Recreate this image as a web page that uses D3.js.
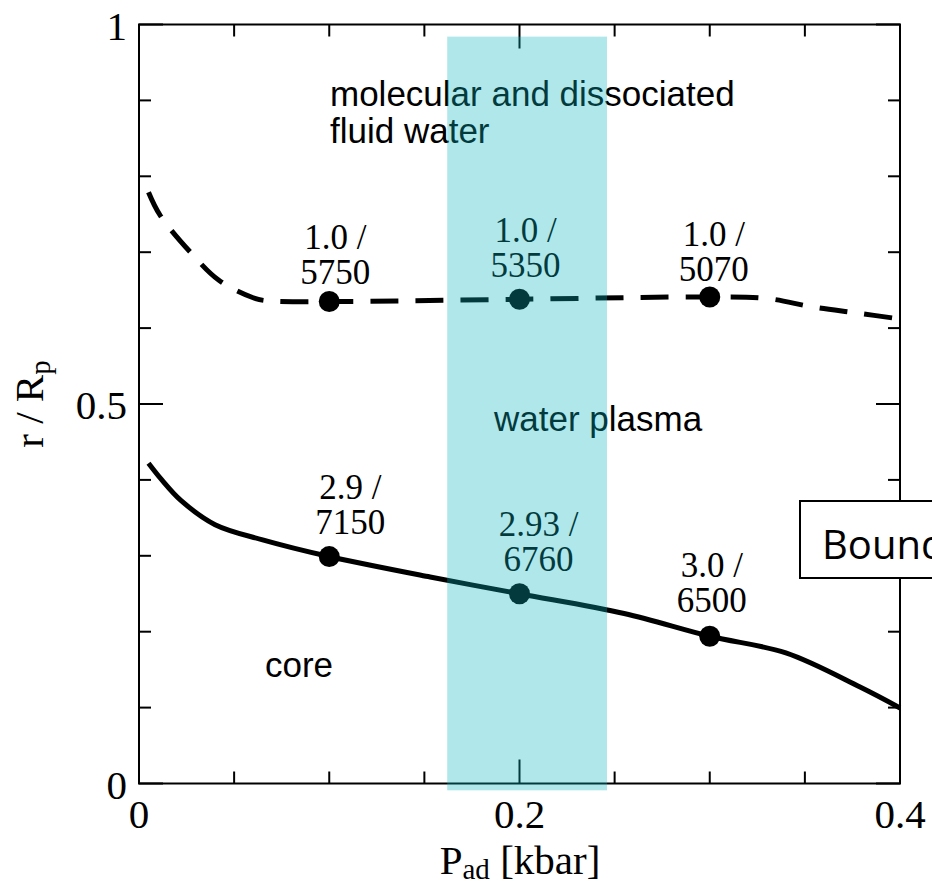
<!DOCTYPE html>
<html>
<head>
<meta charset="utf-8">
<script src="https://cdn.jsdelivr.net/npm/d3@7"></script>
<style>
    html, body { margin: 0; padding: 0; background: #fff; }
    svg { display: block; }
    .serif { font-family: 'Liberation Serif', 'Times New Roman', serif; }
    .sans { font-family: 'Liberation Sans', Arial, sans-serif; }
</style>
</head>
<body>
<div id="chart"></div>
<script>
// data
const fluidX = [0.005, 0.011, 0.027, 0.042, 0.060, 0.067, 0.1, 0.2, 0.3, 0.33, 0.354, 0.377, 0.4];
const fluidY = [0.779, 0.749, 0.700, 0.663, 0.640, 0.636, 0.635, 0.638, 0.641, 0.639, 0.628, 0.620, 0.612];
const coreX = [0.005, 0.012, 0.022, 0.040, 0.065, 0.1, 0.153, 0.2, 0.255, 0.3, 0.34, 0.379, 0.4];
const coreY = [0.422, 0.400, 0.373, 0.341, 0.321, 0.299, 0.272, 0.250, 0.224, 0.194, 0.172, 0.127, 0.0995];

const markX = [0.1, 0.2, 0.3];
const fluidMarkY = [0.635, 0.638, 0.641];
const coreMarkY = [0.299, 0.250, 0.194];
const fluidLabels = [['1.0 /', '5750'], ['1.0 /', '5350'], ['1.0 /', '5070']];
const coreLabels = [['2.9 /', '7150'], ['2.93 /', '6760'], ['3.0 /', '6500']];

const bandX = [0.162, 0.246];
const bandY = [-0.009, 0.984];

const xTicks = [0, 0.2, 0.4];
const yTicks = [0, 0.5, 1];

const width = 932, height = 883;
const margin = { left: 139, right: 32, top: 24.5, bottom: 99.5 };

const x = d3.scaleLinear().domain([0, 0.4]).range([margin.left, width - margin.right]);
const y = d3.scaleLinear().domain([0, 1]).range([height - margin.bottom, margin.top]);

const svg = d3.select('#chart').append('svg')
    .attr('width', width)
    .attr('height', height);

const x0 = x(0), x1 = x(0.4), y0 = y(0), y1 = y(1);

// curves
const line = d3.line()
    .curve(d3.curveCatmullRom.alpha(0.5))
    .x(d => x(d[0]))
    .y(d => y(d[1]));

svg.append('path')
    .attr('fill', 'none')
    .attr('stroke', '#000')
    .attr('stroke-width', 5)
    .attr('stroke-dasharray', '28,17')
    .attr('d', line(d3.zip(fluidX, fluidY)));

svg.append('path')
    .attr('fill', 'none')
    .attr('stroke', '#000')
    .attr('stroke-width', 5)
    .attr('d', line(d3.zip(coreX, coreY)));

// markers
svg.selectAll('circle.fluid')
    .data(d3.zip(markX, fluidMarkY))
    .join('circle')
    .attr('class', 'fluid')
    .attr('cx', d => x(d[0]))
    .attr('cy', d => y(d[1]))
    .attr('r', 10.5)
    .attr('fill', '#000');

svg.selectAll('circle.core')
    .data(d3.zip(markX, coreMarkY))
    .join('circle')
    .attr('class', 'core')
    .attr('cx', d => x(d[0]))
    .attr('cy', d => y(d[1]))
    .attr('r', 10.5)
    .attr('fill', '#000');

// marker labels
const fluidShift = [[6, -18], [6, -22], [4, -16]];
const coreShift = [[21, -23], [19, -23], [2, -24]];

function addLabels(ys, labels, shift) {
    markX.forEach((mx, i) => {
        const t = svg.append('text')
            .attr('class', 'serif')
            .attr('text-anchor', 'middle')
            .style('font-size', '35px');
        const cx = x(mx) + shift[i][0];
        const by = y(ys[i]) + shift[i][1];
        t.append('tspan').attr('x', cx).attr('y', by - 35).text(labels[i][0]);
        t.append('tspan').attr('x', cx).attr('y', by).text(labels[i][1]);
    });
}
addLabels(fluidMarkY, fluidLabels, fluidShift);
addLabels(coreMarkY, coreLabels, coreShift);

// region labels
const region = svg.append('g').attr('class', 'sans').style('font-size', '35px');
region.append('text').attr('x', 330).attr('y', 106).text('molecular and dissociated');
region.append('text').attr('x', 330).attr('y', 143).text('fluid water');
region.append('text').attr('x', 494).attr('y', 431).text('water plasma');
region.append('text').attr('x', 265).attr('y', 677).text('core');

// frame
svg.append('rect')
    .attr('x', x0).attr('y', y1)
    .attr('width', x1 - x0).attr('height', y0 - y1)
    .attr('fill', 'none')
    .attr('stroke', '#000')
    .attr('stroke-width', 2);

// ticks on all four sides
const ticks = svg.append('g').attr('stroke', '#000').attr('stroke-width', 2);
d3.range(0, 0.4001, 0.05).forEach(v => {
    const major = xTicks.some(t => Math.abs(t - v) < 1e-6);
    const len = major ? 24 : 12;
    ticks.append('line').attr('x1', x(v)).attr('x2', x(v)).attr('y1', y0).attr('y2', y0 - len);
    ticks.append('line').attr('x1', x(v)).attr('x2', x(v)).attr('y1', y1).attr('y2', y1 + len);
});
d3.range(0, 1.0001, 0.1).forEach(v => {
    const major = yTicks.some(t => Math.abs(t - v) < 1e-6);
    const len = major ? 24 : 12;
    ticks.append('line').attr('y1', y(v)).attr('y2', y(v)).attr('x1', x0).attr('x2', x0 + len);
    ticks.append('line').attr('y1', y(v)).attr('y2', y(v)).attr('x1', x1).attr('x2', x1 - len);
});

// tick labels
svg.append('g').attr('class', 'serif').style('font-size', '41px')
    .selectAll('text')
    .data(xTicks)
    .join('text')
    .attr('x', d => x(d))
    .attr('y', y0 + 44)
    .attr('text-anchor', 'middle')
    .text(d => d3.format('')(d));

svg.append('g').attr('class', 'serif').style('font-size', '41px')
    .selectAll('text')
    .data(yTicks)
    .join('text')
    .attr('x', x0 - 12)
    .attr('y', d => y(d) + 15)
    .attr('text-anchor', 'end')
    .text(d => d3.format('')(d));

// axis titles
const xt = svg.append('text')
    .attr('class', 'serif')
    .attr('x', 520).attr('y', 874)
    .attr('text-anchor', 'middle')
    .style('font-size', '41px');
xt.append('tspan').text('P');
xt.append('tspan').attr('dy', 5).style('font-size', '29px').text('ad');
xt.append('tspan').attr('dy', -5).text(' [kbar]');

const yt = svg.append('text')
    .attr('class', 'serif')
    .attr('transform', 'translate(43,404) rotate(-90)')
    .attr('text-anchor', 'middle')
    .style('font-size', '41px');
yt.append('tspan').text('r / R');
yt.append('tspan').attr('dy', 7).style('font-size', '29px').text('p');

// highlighted band, drawn translucent over everything
svg.append('rect')
    .attr('x', x(bandX[0]))
    .attr('y', y(bandY[1]))
    .attr('width', x(bandX[1]) - x(bandX[0]))
    .attr('height', y(bandY[0]) - y(bandY[1]))
    .attr('fill', 'rgb(8,180,190)')
    .attr('fill-opacity', 0.32);

// boundary callout, cut by the picture edge
svg.append('rect')
    .attr('x', 800).attr('y', 501)
    .attr('width', 200).attr('height', 77)
    .attr('fill', '#fff')
    .attr('stroke', '#000')
    .attr('stroke-width', 2);
svg.append('text')
    .attr('x', 822).attr('y', 559)
    .style('font-family', "'Open Sans', 'Liberation Sans', sans-serif")
    .style('font-size', '40px')
    .text('Boundary');
</script>
</body>
</html>
